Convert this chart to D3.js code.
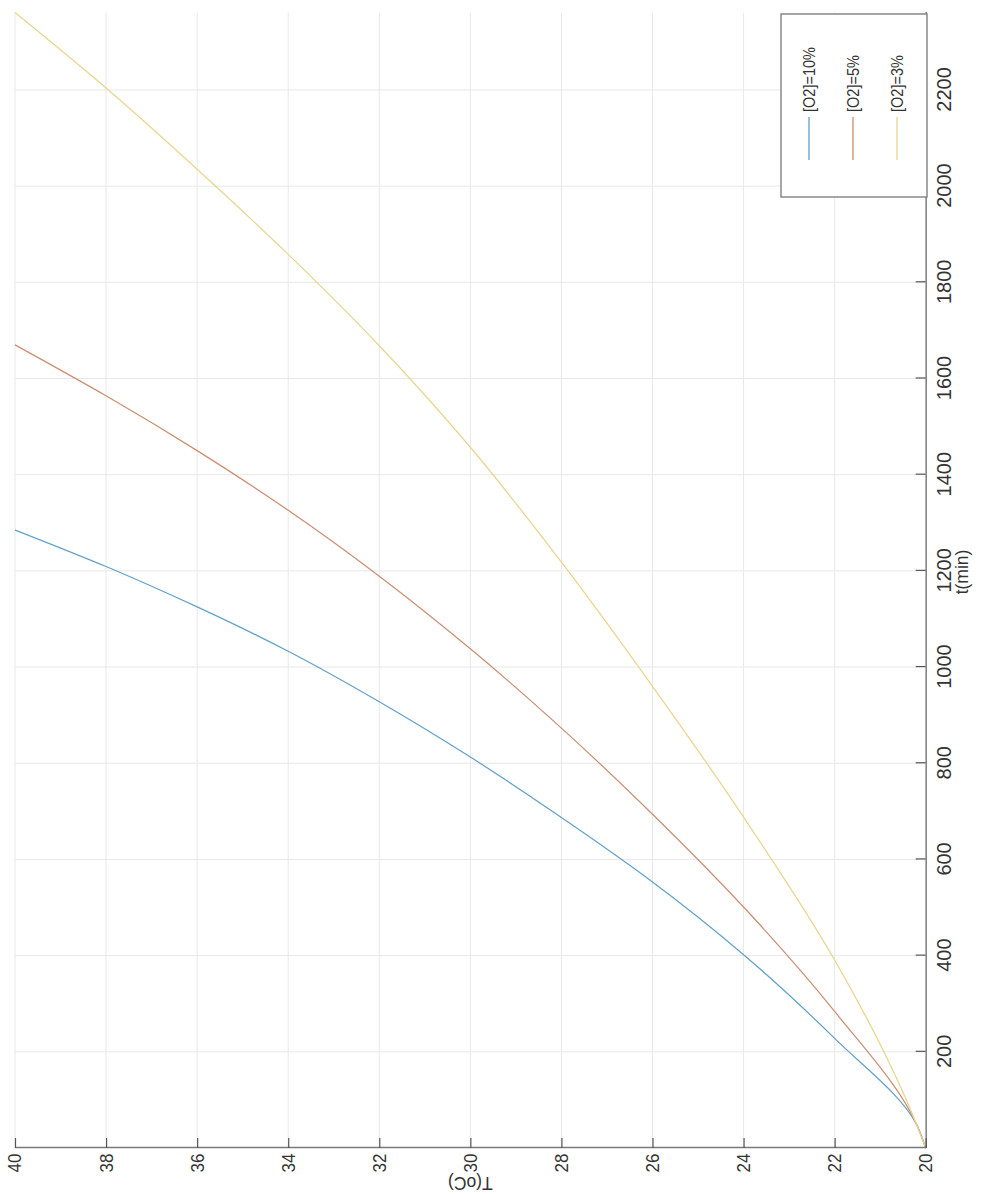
<!DOCTYPE html>
<html>
<head>
<meta charset="utf-8">
<script src="https://cdn.jsdelivr.net/npm/d3@7/dist/d3.min.js"></script>
<style>
  html, body { margin: 0; padding: 0; background: #fff; }
  svg { display: block; }
  text { font-family: "Liberation Sans", Arial, Helvetica, sans-serif; fill: #333; }
</style>
</head>
<body>
<svg id="chart" width="981" height="1194"></svg>
<script>
// Temperature samples (°C) shared by every series
const temps = [20, 20.2, 22, 24, 26, 28, 30, 32, 34, 36, 38, 40];

// Time (min) needed to reach each temperature, per oxygen level
const time10 = [0, 49, 228, 402, 553, 687, 813, 928, 1033, 1125, 1209, 1285];
const time5  = [0, 49, 284, 501, 694, 873, 1038, 1189, 1326, 1450, 1564, 1670];
const time3  = [0, 49, 391, 688, 960, 1218, 1457, 1668, 1858, 2035, 2204, 2361];

const seriesNames  = ["[O2]=10%", "[O2]=5%", "[O2]=3%"];
const seriesColors = ["#62a1c9", "#cc8e72", "#e8d58e"];

const timeTicks = [200, 400, 600, 800, 1000, 1200, 1400, 1600, 1800, 2000, 2200];
const tempTicks = [20, 22, 24, 26, 28, 30, 32, 34, 36, 38, 40];

const series = [time10, time5, time3].map((ts, i) => ({
  name: seriesNames[i],
  color: seriesColors[i],
  points: ts.map((t, j) => ({ t, T: temps[j] }))
}));

// The figure is laid out in its own landscape frame (t across, T up) and then
// turned a quarter turn counter-clockwise onto the portrait page.
const W = 1194;
const svg = d3.select("#chart");
const g = svg.append("g").attr("transform", `translate(0,${W}) rotate(-90)`);

const tMax = 2361;
const x = d3.scaleLinear().domain([0, tMax]).range([46, 1181.5]);
const y = d3.scaleLinear().domain([20, 40]).range([925.7, 15]);

// grid
const grid = g.append("g").attr("stroke", "#e8e8e8").attr("stroke-width", 1);
grid.selectAll("line.gx").data(timeTicks).join("line")
  .attr("x1", d => x(d)).attr("x2", d => x(d))
  .attr("y1", y(20)).attr("y2", y(40));
grid.selectAll("line.gy").data(tempTicks).join("line")
  .attr("x1", x(0)).attr("x2", x(tMax))
  .attr("y1", d => y(d)).attr("y2", d => y(d));

// curves
const line = d3.line().x(d => x(d.t)).y(d => y(d.T)).curve(d3.curveMonotoneX);
g.append("g").selectAll("path").data(series).join("path")
  .attr("d", d => line(d.points))
  .attr("fill", "none")
  .attr("stroke", d => d.color)
  .attr("stroke-width", 1.25);

// axes
const axisColor = "#7a7a7a";
const xAxis = g.append("g").attr("transform", `translate(0,${y(20)})`)
  .call(d3.axisBottom(x).tickValues(timeTicks).tickFormat(d3.format("d"))
    .tickSizeInner(-10).tickSizeOuter(0).tickPadding(11));
const yAxis = g.append("g").attr("transform", `translate(${x(0)},0)`)
  .call(d3.axisLeft(y).tickValues(tempTicks).tickFormat(d3.format("d"))
    .tickSizeInner(-10).tickSizeOuter(0).tickPadding(6));

[xAxis, yAxis].forEach(ax => {
  ax.select(".domain").attr("stroke", axisColor).attr("stroke-width", 1.4);
  ax.selectAll(".tick line").attr("stroke", "#555").attr("stroke-width", 1.2);
  ax.selectAll(".tick text").attr("fill", "#333");
});
xAxis.selectAll(".tick text").attr("font-size", 20);
yAxis.selectAll(".tick text").attr("font-size", 18.5)
  .attr("transform", "scale(0.92,1)");

// axis titles
g.append("text")
  .attr("transform", `translate(622,968)`)
  .attr("text-anchor", "middle").attr("font-size", 17.5)
  .text("t(min)");
g.append("text")
  .attr("transform", `translate(11,${y(30)}) rotate(-90)`)
  .attr("text-anchor", "middle").attr("dy", "0.35em").attr("font-size", 17.5)
  .text("T(oC)");

// legend
const legend = g.append("g");
legend.append("rect")
  .attr("x", 997).attr("y", 781).attr("width", 183).attr("height", 146)
  .attr("fill", "#fff").attr("stroke", "#808080").attr("stroke-width", 1.4);
const rows = legend.selectAll("g.row").data(series).join("g")
  .attr("transform", (d, i) => `translate(0,${809 + i * 44})`);
rows.append("line")
  .attr("x1", 1034).attr("x2", 1077).attr("y1", 0).attr("y2", 0)
  .attr("stroke", d => d.color).attr("stroke-width", 1.3);
rows.append("text")
  .attr("transform", "translate(1082,0) scale(0.88,1)")
  .attr("dy", "0.35em").attr("font-size", 16.5)
  .text(d => d.name);
</script>
</body>
</html>
